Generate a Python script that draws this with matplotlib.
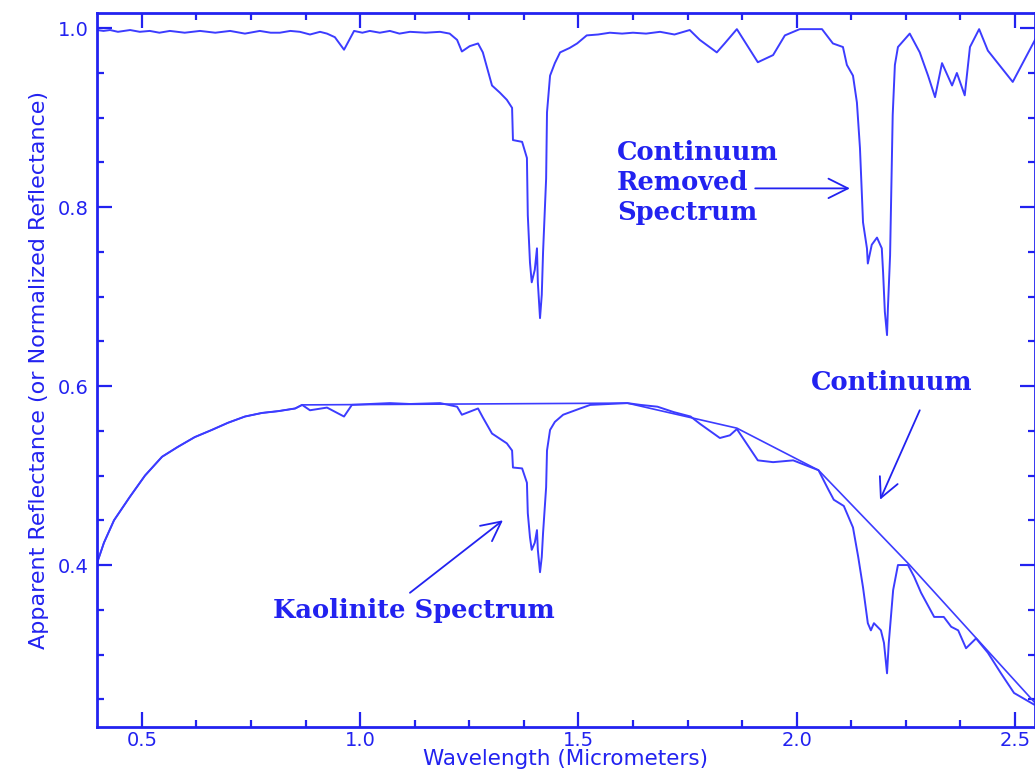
import matplotlib
matplotlib.use("Agg")
import matplotlib.pyplot as plt
from matplotlib.ticker import MultipleLocator

# Espectro con el continuo removido (curva superior)
wl_removed = [0.397, 0.412, 0.427, 0.445, 0.473, 0.495, 0.518, 0.540, 0.564, 0.598,
              0.633, 0.668, 0.702, 0.736, 0.770, 0.795, 0.816, 0.840, 0.862, 0.885,
              0.908, 0.924, 0.942, 0.963, 0.974, 0.986, 1.005, 1.022, 1.045, 1.068,
              1.090, 1.114, 1.150, 1.183, 1.205, 1.222, 1.233, 1.251, 1.270, 1.281,
              1.302, 1.320, 1.336, 1.348, 1.350, 1.371, 1.382, 1.384, 1.389, 1.393,
              1.400, 1.405, 1.407, 1.412, 1.416, 1.419, 1.426, 1.428, 1.435, 1.446,
              1.458, 1.480, 1.497, 1.519, 1.545, 1.572, 1.600, 1.625, 1.655, 1.687,
              1.720, 1.755, 1.778, 1.817, 1.835, 1.863, 1.911, 1.946, 1.973, 2.007,
              2.058, 2.083, 2.106, 2.115, 2.129, 2.138, 2.145, 2.152, 2.161, 2.163,
              2.172, 2.184, 2.195, 2.198, 2.202, 2.207, 2.209, 2.214, 2.220, 2.225,
              2.232, 2.259, 2.282, 2.301, 2.317, 2.333, 2.356, 2.367, 2.385, 2.397,
              2.418, 2.438, 2.495, 2.546]
refl_removed = [0.998, 0.997, 0.998, 0.996, 0.998, 0.996, 0.997, 0.995, 0.997, 0.995,
                0.997, 0.995, 0.997, 0.994, 0.997, 0.995, 0.995, 0.997, 0.996, 0.993,
                0.996, 0.994, 0.990, 0.976, 0.986, 0.997, 0.995, 0.997, 0.995, 0.997,
                0.994, 0.996, 0.995, 0.996, 0.994, 0.987, 0.974, 0.980, 0.983, 0.973,
                0.936, 0.928, 0.920, 0.911, 0.875, 0.873, 0.855, 0.791, 0.738, 0.716,
                0.730, 0.754, 0.716, 0.676, 0.702, 0.750, 0.832, 0.906, 0.947, 0.961,
                0.973, 0.978, 0.983, 0.992, 0.993, 0.995, 0.994, 0.995, 0.994, 0.996,
                0.993, 0.998, 0.987, 0.973, 0.983, 0.999, 0.962, 0.970, 0.992, 0.999,
                0.999, 0.983, 0.979, 0.959, 0.947, 0.917, 0.866, 0.783, 0.754, 0.737,
                0.758, 0.766, 0.754, 0.727, 0.683, 0.657, 0.687, 0.746, 0.903, 0.959,
                0.979, 0.994, 0.973, 0.947, 0.923, 0.961, 0.936, 0.950, 0.925, 0.979,
                0.999, 0.975, 0.940, 0.987]

# Espectro de caolinita (curva inferior)
wl_kaol = [0.397, 0.413, 0.436, 0.472, 0.507, 0.546, 0.582, 0.621, 0.660, 0.697,
           0.736, 0.775, 0.812, 0.851, 0.867, 0.885, 0.924, 0.963, 0.981, 1.022,
           1.068, 1.114, 1.183, 1.222, 1.233, 1.270, 1.281, 1.302, 1.336, 1.348,
           1.350, 1.371, 1.382, 1.384, 1.389, 1.393, 1.400, 1.405, 1.407, 1.412,
           1.416, 1.419, 1.426, 1.428, 1.435, 1.446, 1.465, 1.504, 1.527, 1.612,
           1.642, 1.681, 1.718, 1.757, 1.778, 1.824, 1.847, 1.863, 1.911, 1.946,
           1.992, 2.050, 2.073, 2.085, 2.108, 2.129, 2.141, 2.152, 2.163, 2.170,
           2.177, 2.193, 2.200, 2.207, 2.211, 2.221, 2.232, 2.255, 2.269, 2.285,
           2.315, 2.337, 2.354, 2.370, 2.388, 2.411, 2.438, 2.468, 2.498, 2.544]
refl_kaol = [0.402, 0.425, 0.450, 0.476, 0.500, 0.521, 0.532, 0.543, 0.551, 0.559,
             0.566, 0.570, 0.572, 0.575, 0.579, 0.573, 0.576, 0.566, 0.579, 0.580,
             0.581, 0.580, 0.581, 0.577, 0.568, 0.575, 0.565, 0.547, 0.536, 0.528,
             0.509, 0.508, 0.492, 0.458, 0.431, 0.417, 0.425, 0.439, 0.417, 0.392,
             0.409, 0.436, 0.487, 0.528, 0.551, 0.560, 0.568, 0.575, 0.579, 0.581,
             0.579, 0.577, 0.571, 0.566, 0.558, 0.542, 0.545, 0.552, 0.517, 0.515,
             0.517, 0.506, 0.484, 0.473, 0.466, 0.442, 0.409, 0.375, 0.335, 0.327,
             0.335, 0.327, 0.313, 0.279, 0.313, 0.372, 0.400, 0.400, 0.387, 0.369,
             0.342, 0.342, 0.331, 0.327, 0.307, 0.318, 0.302, 0.279, 0.257, 0.244]

# Continuo (envolvente convexa)
wl_cont = [0.397, 0.413, 0.436, 0.472, 0.507, 0.546, 0.582, 0.621, 0.660, 0.697,
           0.736, 0.775, 0.812, 0.851, 0.867, 1.612, 1.863, 2.050, 2.259, 2.546]
refl_cont = [0.402, 0.425, 0.450, 0.476, 0.500, 0.521, 0.532, 0.543, 0.551, 0.559,
             0.566, 0.570, 0.572, 0.575, 0.579, 0.581, 0.553, 0.506, 0.400, 0.246]

azul_linea = "#3c3cff"
azul = "#2222f0"

fig = plt.figure(figsize=(10.35, 7.71), dpi=100)
ax = fig.add_axes([0.0937, 0.0571, 0.9063, 0.926])

ax.plot(wl_removed, refl_removed, color=azul_linea, lw=1.4)
ax.plot(wl_kaol, refl_kaol, color=azul_linea, lw=1.4)
ax.plot(wl_cont, refl_cont, color=azul_linea, lw=1.2)

ax.set_xlim(0.397, 2.546)
ax.set_ylim(0.219, 1.017)

ax.xaxis.set_major_locator(MultipleLocator(0.5))
ax.xaxis.set_minor_locator(MultipleLocator(0.125))
ax.set_yticks([0.4, 0.6, 0.8, 1.0])
ax.yaxis.set_minor_locator(MultipleLocator(0.05))

for s in ax.spines.values():
    s.set_color(azul)
    s.set_linewidth(2)
ax.tick_params(which="both", direction="in", top=True, right=True, colors=azul,
               labelcolor=azul, width=1.6, labelsize=14)
ax.tick_params(which="major", length=11)
ax.tick_params(which="minor", length=5)
ax.tick_params(axis="y", pad=6)
ax.tick_params(axis="x", pad=3)

ax.set_xlabel("Wavelength (Micrometers)", color=azul, fontsize=15.5, labelpad=-1)
ax.set_ylabel("Apparent Reflectance (or Normalized Reflectance)", color=azul,
              fontsize=16, labelpad=6)

fuente = dict(family="DejaVu Serif", weight="bold", size=18.5, color=azul)
ax.text(1.588, 0.828, "Continuum\nRemoved\nSpectrum", ha="left", va="center",
        linespacing=1.25, **fuente)
ax.text(2.218, 0.604, "Continuum", ha="center", va="center", **fuente)
ax.text(1.123, 0.349, "Kaolinite Spectrum", ha="center", va="center", **fuente)

flecha = dict(arrowstyle="->,head_length=0.7,head_width=0.35", color=azul,
              lw=1.3, mutation_scale=20, shrinkA=0, shrinkB=0)
ax.annotate("", xy=(2.122, 0.821), xytext=(1.905, 0.821), arrowprops=flecha)
ax.annotate("", xy=(2.191, 0.473), xytext=(2.282, 0.573), arrowprops=flecha)
ax.annotate("", xy=(1.327, 0.450), xytext=(1.114, 0.369), arrowprops=flecha)

fig.savefig("out.png", dpi=100)
